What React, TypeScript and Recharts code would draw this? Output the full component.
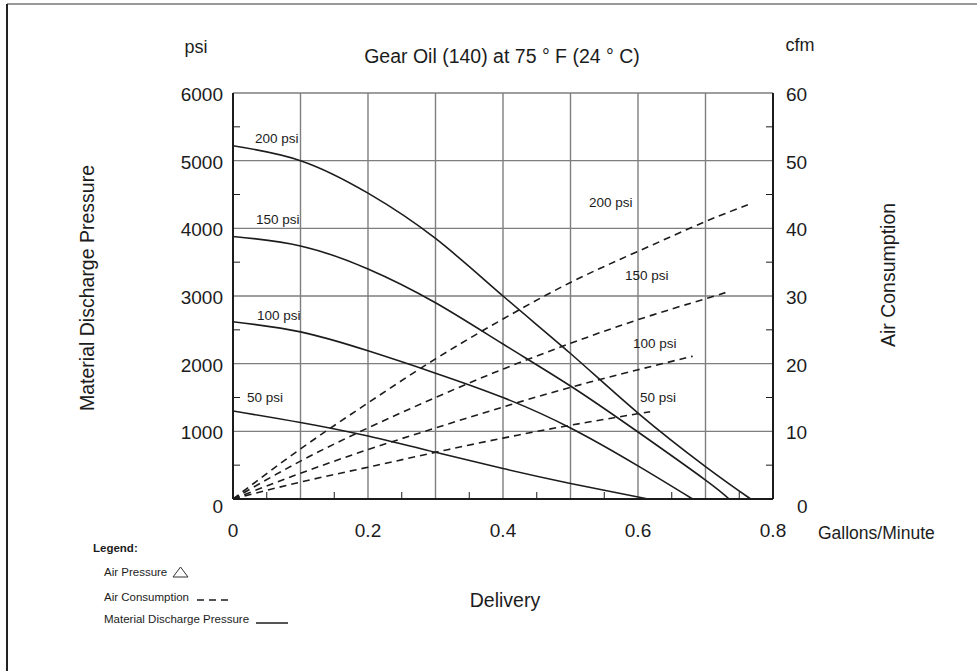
import React from "react";
import { LineChart, Line, XAxis, YAxis, ReferenceLine } from "recharts";

// axis ticks / grid
const deliveryLabels = [0, 0.2, 0.4, 0.6, 0.8];
const deliveryTicks = [0, 0.05, 0.1, 0.15, 0.2, 0.25, 0.3, 0.35, 0.4, 0.45, 0.5, 0.55, 0.6, 0.65, 0.7, 0.75, 0.8];
const deliveryGrid = [0.1, 0.2, 0.3, 0.4, 0.5, 0.6, 0.7];
const psiTicks = [0, 500, 1000, 1500, 2000, 2500, 3000, 3500, 4000, 4500, 5000, 5500, 6000];
const psiGrid = [1000, 2000, 3000, 4000, 5000, 6000];
const cfmTicks = [0, 5, 10, 15, 20, 25, 30, 35, 40, 45, 50, 55, 60];

// material discharge pressure (psi), solid
const mdp200X = [0, 0.1, 0.2, 0.3, 0.4, 0.5, 0.6, 0.7, 0.767];
const mdp200 = [5220, 5000, 4520, 3850, 3000, 2150, 1270, 480, 0];
const mdp150X = [0, 0.1, 0.2, 0.3, 0.4, 0.5, 0.6, 0.7, 0.735];
const mdp150 = [3880, 3740, 3400, 2900, 2290, 1670, 990, 280, 0];
const mdp100X = [0, 0.1, 0.2, 0.3, 0.4, 0.5, 0.6, 0.681];
const mdp100 = [2620, 2470, 2190, 1860, 1500, 1050, 490, 0];
const mdp50X = [0, 0.1, 0.2, 0.3, 0.4, 0.5, 0.615];
const mdp50 = [1300, 1130, 930, 690, 450, 230, 0];

// air consumption (cfm), dashed
const air200X = [0, 0.1, 0.2, 0.3, 0.4, 0.5, 0.6, 0.7, 0.769];
const air200 = [0, 7.4, 14.2, 20.7, 26.6, 32.0, 36.6, 41.0, 43.7];
const air150X = [0, 0.1, 0.2, 0.3, 0.4, 0.5, 0.6, 0.7, 0.736];
const air150 = [0, 5.6, 10.5, 15.0, 19.2, 23.0, 26.5, 29.6, 30.7];
const air100X = [0, 0.1, 0.2, 0.3, 0.4, 0.5, 0.6, 0.681];
const air100 = [0, 3.8, 7.3, 10.5, 13.6, 16.5, 19.1, 21.1];
const air50X = [0, 0.1, 0.2, 0.3, 0.4, 0.5, 0.618];
const air50 = [0, 2.5, 4.7, 6.9, 9.0, 10.9, 12.9];

const FONT = '"Liberation Sans", Arial, Helvetica, sans-serif';
const INK = "#1c1c1c";
const GRID = "#7e7e7e";

const toSeries = (xs: number[], vs: number[]) => xs.map((x, i) => ({ x, v: vs[i] }));

const solid = [
  toSeries(mdp200X, mdp200),
  toSeries(mdp150X, mdp150),
  toSeries(mdp100X, mdp100),
  toSeries(mdp50X, mdp50),
];
const dashed = [
  toSeries(air200X, air200),
  toSeries(air150X, air150),
  toSeries(air100X, air100),
  toSeries(air50X, air50),
];

function DeliveryTick(props: any) {
  const { x, y, payload } = props;
  const v = payload.value;
  const onGrid = Math.abs(v * 10 - Math.round(v * 10)) < 1e-6;
  const labelled = deliveryLabels.some((d) => Math.abs(d - v) < 1e-6);
  return (
    <g>
      {!onGrid && <line x1={x} y1={y} x2={x} y2={y - 7} stroke={INK} strokeWidth={1} />}
      {labelled && (
        <text x={x} y={y + 31} textAnchor="middle" dominantBaseline="central" fontSize={19} fill={INK} fontFamily={FONT}>
          {v === 0 ? "0" : v.toFixed(1)}
        </text>
      )}
    </g>
  );
}

function PsiTick(props: any) {
  const { x, y, payload } = props;
  const v = payload.value;
  const major = v % 1000 === 0;
  return (
    <g>
      {!major && <line x1={x} y1={y} x2={x + 7} y2={y} stroke={INK} strokeWidth={1} />}
      {major && (
        <text x={x - 10} y={v === 0 ? y + 7 : y + 1.5} textAnchor="end" dominantBaseline="central" fontSize={19} fill={INK} fontFamily={FONT}>
          {v}
        </text>
      )}
    </g>
  );
}

function CfmTick(props: any) {
  const { x, y, payload } = props;
  const v = payload.value;
  const major = v % 10 === 0;
  return (
    <g>
      {!major && <line x1={x} y1={y} x2={x - 7} y2={y} stroke={INK} strokeWidth={1} />}
      {major && (
        <text x={v === 0 ? x + 24 : x + 13} y={v === 0 ? y + 7 : y + 1.5} textAnchor="start" dominantBaseline="central" fontSize={19} fill={INK} fontFamily={FONT}>
          {v}
        </text>
      )}
    </g>
  );
}

export default function App() {
  const txt = { fontFamily: FONT, fill: INK } as const;
  return (
    <div style={{ position: "relative", width: 977, height: 671, background: "#fff" }}>
      <style>{`body{margin:0;background:#fff}`}</style>
      <LineChart width={977} height={671} margin={{ top: 93, right: 104, bottom: 100, left: 133 }}>
        <XAxis
          dataKey="x"
          type="number"
          domain={[0, 0.8]}
          ticks={deliveryTicks}
          interval={0}
          tickSize={0}
          tickMargin={0}
          tickLine={false}
          height={72}
          axisLine={{ stroke: INK, strokeWidth: 2 }}
          tick={DeliveryTick}
        />
        <YAxis
          yAxisId="psi"
          type="number"
          domain={[0, 6000]}
          ticks={psiTicks}
          interval={0}
          tickSize={0}
          tickMargin={0}
          tickLine={false}
          width={100}
          axisLine={{ stroke: INK, strokeWidth: 2 }}
          tick={PsiTick}
        />
        <YAxis
          yAxisId="cfm"
          orientation="right"
          type="number"
          domain={[0, 60]}
          ticks={cfmTicks}
          interval={0}
          tickSize={0}
          tickMargin={0}
          tickLine={false}
          width={100}
          axisLine={{ stroke: INK, strokeWidth: 2 }}
          tick={CfmTick}
        />
        {deliveryGrid.map((g) => (
          <ReferenceLine key={"gx" + g} yAxisId="psi" x={g} stroke={GRID} strokeWidth={1.4} />
        ))}
        {psiGrid.map((g) => (
          <ReferenceLine key={"gy" + g} yAxisId="psi" y={g} stroke={GRID} strokeWidth={1.4} />
        ))}
        {solid.map((d, i) => (
          <Line
            key={"s" + i}
            yAxisId="psi"
            data={d}
            dataKey="v"
            type="natural"
            stroke={INK}
            strokeWidth={1.6}
            dot={false}
            activeDot={false}
            isAnimationActive={false}
          />
        ))}
        {dashed.map((d, i) => (
          <Line
            key={"d" + i}
            yAxisId="cfm"
            data={d}
            dataKey="v"
            type="natural"
            stroke={INK}
            strokeWidth={1.6}
            strokeDasharray="7 5"
            dot={false}
            activeDot={false}
            isAnimationActive={false}
          />
        ))}
      </LineChart>

      <svg width={977} height={671} style={{ position: "absolute", left: 0, top: 0, pointerEvents: "none" }}>
        <line x1={7} y1={4} x2={977} y2={4} stroke="#777" strokeWidth={1.5} />
        <line x1={7} y1={4} x2={7} y2={671} stroke="#222" strokeWidth={2} />

        <text x={196} y={47} textAnchor="middle" dominantBaseline="central" fontSize={18} {...txt}>psi</text>
        <text x={800} y={45} textAnchor="middle" dominantBaseline="central" fontSize={18} {...txt}>cfm</text>
        <text x={502} y={56} textAnchor="middle" dominantBaseline="central" fontSize={19.5} {...txt}>
          Gear Oil (140) at 75 ° F (24 ° C)
        </text>

        <text transform="translate(87,288) rotate(-90)" textAnchor="middle" dominantBaseline="central" fontSize={19.5} {...txt}>
          Material Discharge Pressure
        </text>
        <text transform="translate(888,275) rotate(-90)" textAnchor="middle" dominantBaseline="central" fontSize={19.5} {...txt}>
          Air Consumption
        </text>
        <text x={818} y={533} dominantBaseline="central" fontSize={17.5} {...txt}>Gallons/Minute</text>
        <text x={505} y={600} textAnchor="middle" dominantBaseline="central" fontSize={19.5} {...txt}>Delivery</text>

        <text x={255} y={138} dominantBaseline="central" fontSize={13.5} {...txt}>200 psi</text>
        <text x={256} y={219} dominantBaseline="central" fontSize={13.5} {...txt}>150 psi</text>
        <text x={257} y={315} dominantBaseline="central" fontSize={13.5} {...txt}>100 psi</text>
        <text x={247} y={397} dominantBaseline="central" fontSize={13.5} {...txt}>50 psi</text>
        <text x={589} y={202} dominantBaseline="central" fontSize={13.5} {...txt}>200 psi</text>
        <text x={625} y={275} dominantBaseline="central" fontSize={13.5} {...txt}>150 psi</text>
        <text x={633} y={343} dominantBaseline="central" fontSize={13.5} {...txt}>100 psi</text>
        <text x={640} y={397} dominantBaseline="central" fontSize={13.5} {...txt}>50 psi</text>

        <text x={93} y={548} dominantBaseline="central" fontSize={11.5} fontWeight="bold" {...txt}>Legend:</text>
        <text x={104} y={572} dominantBaseline="central" fontSize={11.5} {...txt}>Air Pressure</text>
        <path d="M173,577 L188,577 L180.5,567 Z" fill="none" stroke="#333" strokeWidth={1} />
        <text x={104} y={597} dominantBaseline="central" fontSize={11.5} {...txt}>Air Consumption</text>
        <line x1={197} y1={600} x2={229} y2={600} stroke={INK} strokeWidth={1.5} strokeDasharray="7 5" />
        <text x={104} y={619} dominantBaseline="central" fontSize={11.5} {...txt}>Material Discharge Pressure</text>
        <line x1={256} y1={623} x2={288} y2={623} stroke={INK} strokeWidth={1.5} />
      </svg>
    </div>
  );
}
